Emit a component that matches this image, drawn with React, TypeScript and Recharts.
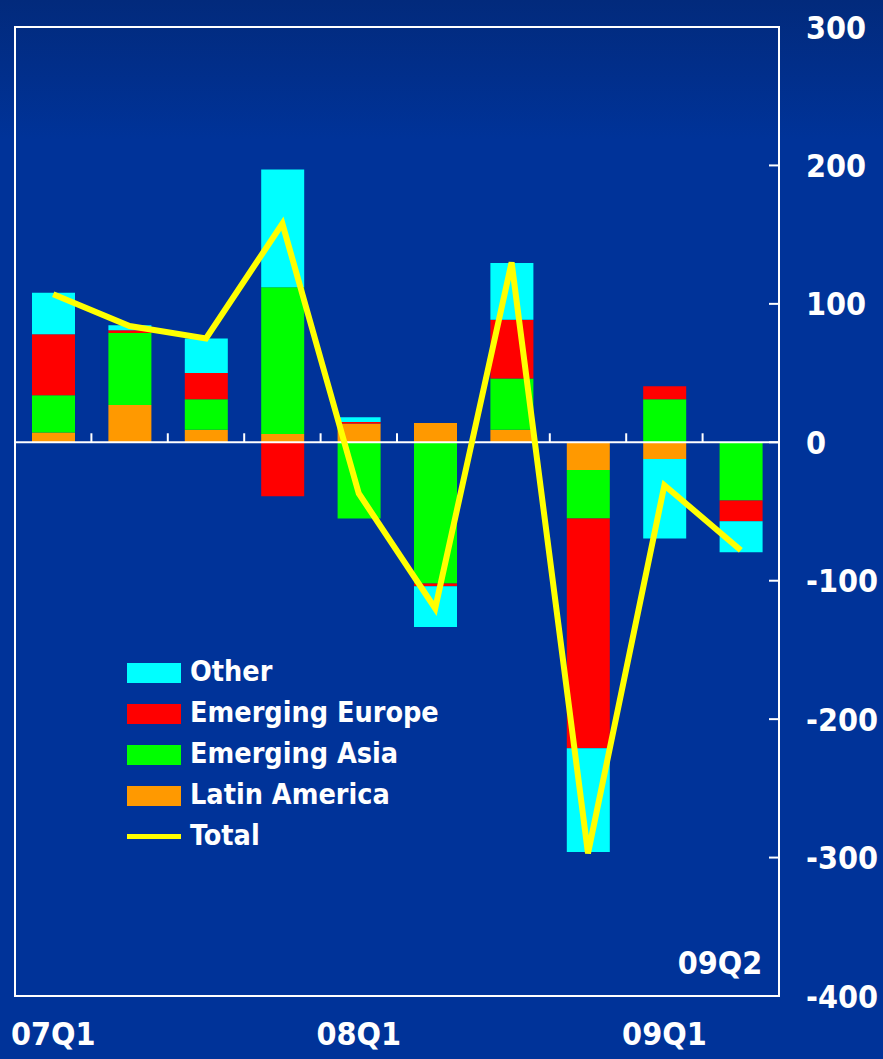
import {
  ComposedChart,
  Bar,
  Line,
  XAxis,
  YAxis,
  ReferenceLine,
  ReferenceArea,
} from "recharts";

const quarters = ["07Q1", "07Q2", "07Q3", "07Q4", "08Q1", "08Q2", "08Q3", "08Q4", "09Q1", "09Q2"];
const latinAmerica = [7, 27, 9, 6, 13.5, 14, 9, -20, -12, 0];
const emergingAsia = [27, 52, 22, 106, -55, -102, 37, -35, 31, -42];
const emergingEurope = [44, 2, 19, -39, 1.2, -2, 42.5, -166, 9.5, -15];
const other = [30, 3.5, 25, 85, 3.3, -29.5, 41, -75, -57.5, -22.5];
const total = [107, 84, 75, 158, -37, -120, 130, -297, -31, -78];

const yTicks = [-400, -300, -200, -100, 0, 100, 200, 300];
const shownQuarters = ["07Q1", "08Q1", "09Q1"];
const lastQuarter = "09Q2";

const legendItems = [
  { name: "Other", color: "#00ffff", kind: "box" },
  { name: "Emerging Europe", color: "#ff0000", kind: "box" },
  { name: "Emerging Asia", color: "#00ff00", kind: "box" },
  { name: "Latin America", color: "#ff9900", kind: "box" },
  { name: "Total", color: "#ffff00", kind: "line" },
];

const FONT = "'DejaVu Sans Condensed', 'DejaVu Sans', sans-serif";

const rows = quarters.map((q, i) => ({
  q,
  latin: latinAmerica[i],
  asia: emergingAsia[i],
  europe: emergingEurope[i],
  other: other[i],
  total: total[i],
}));

function YTick(props: any) {
  const { x, y, payload } = props;
  return (
    <g>
      <line x1={x - 10} y1={y} x2={x} y2={y} stroke="#ffffff" strokeWidth={2} />
      <text
        x={x + 27}
        y={y}
        dy="0.36em"
        textAnchor="start"
        fill="#ffffff"
        fontFamily={FONT}
        fontWeight="bold"
        fontSize={32}
      >
        {payload.value}
      </text>
    </g>
  );
}

function XTick(props: any) {
  const { x, y, payload } = props;
  if (!shownQuarters.includes(payload.value)) return <g />;
  return (
    <text
      x={x}
      y={y + 37}
      dy="0.36em"
      textAnchor="middle"
      fill="#ffffff"
      fontFamily={FONT}
      fontWeight="bold"
      fontSize={32}
    >
      {payload.value}
    </text>
  );
}

// zero line with small upward ticks between quarters
function ZeroLine(props: any) {
  const { x1, y1, x2 } = props;
  const step = (x2 - x1) / quarters.length;
  const ticks = quarters.slice(1).map((_, i) => x1 + step * (i + 1));
  return (
    <g>
      <line x1={x1} y1={y1} x2={x2} y2={y1} stroke="#ffffff" strokeWidth={2} />
      {ticks.map((tx) => (
        <line key={tx} x1={tx} y1={y1} x2={tx} y2={y1 - 9} stroke="#ffffff" strokeWidth={2} />
      ))}
    </g>
  );
}

function LegendBox() {
  return (
    <div style={{ position: "absolute", left: 127, top: 652, fontFamily: FONT }}>
      {legendItems.map((item) => (
        <div key={item.name} style={{ display: "flex", alignItems: "center", height: 41 }}>
          <div style={{ width: 54, height: 20, display: "flex", alignItems: "center", marginRight: 9 }}>
            <div
              style={{
                width: 54,
                height: item.kind === "line" ? 5 : 20,
                background: item.color,
              }}
            />
          </div>
          <span style={{ color: "#ffffff", fontWeight: "bold", fontSize: 28.5, lineHeight: 1 }}>
            {item.name}
          </span>
        </div>
      ))}
    </div>
  );
}

export default function App() {
  return (
    <div
      style={{
        position: "absolute",
        left: 0,
        top: 0,
        width: 883,
        height: 1059,
        background: "linear-gradient(180deg, #022a7c 0px, #003399 140px)",
        overflow: "hidden",
      }}
    >
      <ComposedChart
        width={883}
        height={1059}
        data={rows}
        stackOffset="sign"
        barSize={43}
        margin={{ top: 27, right: 0, bottom: 0, left: 15 }}
      >
        <XAxis
          dataKey="q"
          height={63}
          axisLine={false}
          tickLine={false}
          tickSize={0}
          tickMargin={0}
          interval={0}
          tick={XTick}
        />
        <YAxis
          orientation="right"
          width={104}
          domain={[-400, 300]}
          ticks={yTicks}
          allowDataOverflow
          axisLine={false}
          tickLine={false}
          tickSize={0}
          tickMargin={0}
          tick={YTick}
        />
        <Bar dataKey="latin" stackId="a" fill="#ff9900" isAnimationActive={false} />
        <Bar dataKey="asia" stackId="a" fill="#00ff00" isAnimationActive={false} />
        <Bar dataKey="europe" stackId="a" fill="#ff0000" isAnimationActive={false} />
        <Bar dataKey="other" stackId="a" fill="#00ffff" isAnimationActive={false} />
        <ReferenceLine y={0} shape={ZeroLine} />
        <ReferenceArea
          y1={-400}
          y2={300}
          fill="none"
          stroke="#ffffff"
          strokeWidth={2}
          fillOpacity={0}
          ifOverflow="visible"
        />
        <Line
          type="linear"
          dataKey="total"
          stroke="#ffff00"
          strokeWidth={6}
          dot={false}
          activeDot={false}
          isAnimationActive={false}
        />
      </ComposedChart>
      <LegendBox />
      <div
        style={{
          position: "absolute",
          left: 720,
          top: 963,
          transform: "translate(-50%, -50%)",
          color: "#ffffff",
          fontFamily: FONT,
          fontWeight: "bold",
          fontSize: 32,
          lineHeight: 1,
        }}
      >
        {lastQuarter}
      </div>
    </div>
  );
}
